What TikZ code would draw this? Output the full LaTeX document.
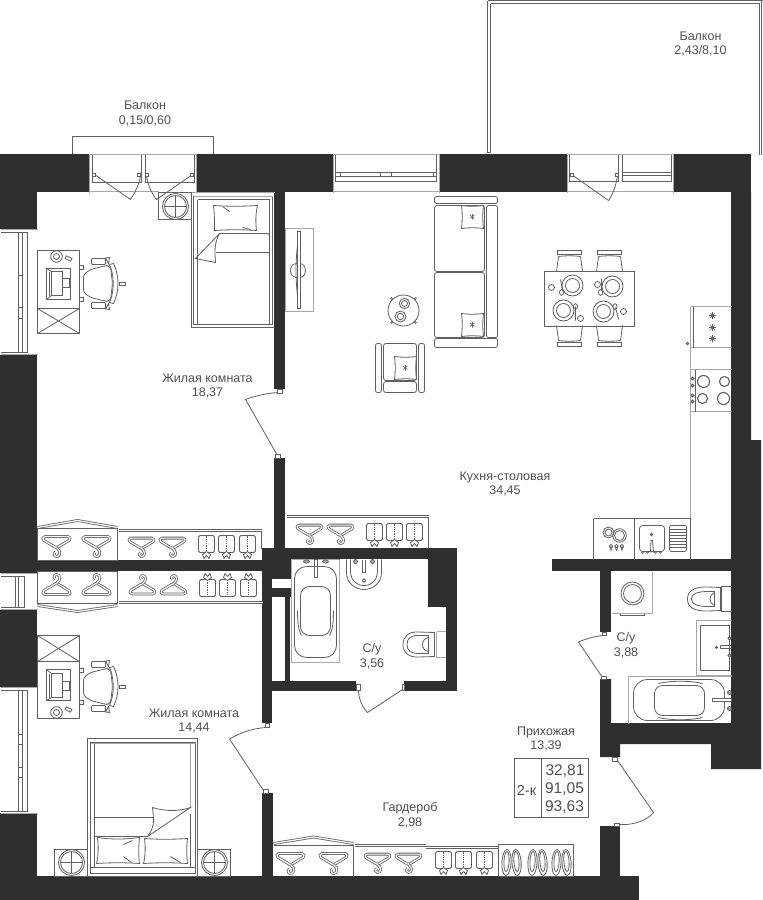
\documentclass[tikz,border=0pt]{standalone}
\usepackage{fontspec}
\setmainfont{Liberation Sans}
\definecolor{wallc}{HTML}{2F2F2F}
\definecolor{linec}{HTML}{606060}
\definecolor{lightl}{HTML}{A8A8A8}
\definecolor{textc}{HTML}{505050}
\tikzset{
  x=1pt,y=-1pt,
  wall/.style={fill=wallc,draw=none},
  ln/.style={draw=linec,line width=.8pt,xshift=.5pt,yshift=-.5pt},
  lite/.style={draw=lightl,line width=1pt,xshift=.5pt,yshift=-.5pt},
  dbl/.style={draw=linec,line width=.8pt,double=white,double distance=1.2pt,line join=round,xshift=.5pt,yshift=-.5pt},
  lab/.style={text=textc,align=center,inner sep=0pt,font=\fontsize{12.5}{14.8}\selectfont},
  big/.style={text=textc,align=center,inner sep=0pt,font=\fontsize{15.5}{18}\selectfont},
  hanger/.pic={
    \draw[dbl,rounded corners=1.5] (0,3.5) -- (-14,-5) -- (-13,-8) -- (13,-8) -- (14,-5) -- cycle;
    \draw[dbl] (0,3) .. controls (5,7) and (4,12) .. (0,12) .. controls (-3,12) and (-3,8) .. (-1,7.5);
  },
  shirt/.pic={
    \draw[ln,rounded corners=1.5] (-8,-13) rectangle (8,4);
    \draw[ln,densely dotted] (0,-13) -- (0,2);
    \draw[ln,fill=white] (0,3) -- (-4,6) -- (-2.5,10) -- (0,7) -- (2.5,10) -- (4,6) -- cycle;
  },
  shoes/.pic={
    \foreach \sx/\r in {-5/-3,5/4}{
      \begin{scope}[shift={(\sx,0)},rotate=\r]
      \draw[ln,fill=white] (0,0) ellipse[x radius=4.6,y radius=13];
      \draw[ln] (0,-1) ellipse[x radius=2.6,y radius=10];
      \end{scope}
    }
  },
  offchair/.pic={
    \draw[ln,rounded corners=3] (-17,-9) -- (-10,-14) -- (6,-18) -- (10,-17) -- (12,0) -- (10,17) -- (6,18) -- (-10,14) -- (-17,9) -- cycle;
    \draw[ln,fill=white] (9,-19) .. controls (14,-8) and (14,8) .. (9,19) -- (13,20) .. controls (19,8) and (19,-8) .. (13,-20) -- cycle;
    \draw[ln] (19,-1.5) rectangle (25,1.5);
    \draw[ln,fill=white,rounded corners=1] (-9,-25) rectangle (5,-19);
    \draw[ln,fill=white,rounded corners=1] (-9,19) rectangle (5,25);
    \draw[ln] (-21,-18) rectangle (-17,-14) (-21,14) rectangle (-17,18);
    \draw[ln] (5,-25.5) -- (9,-26) -- (8,-20) -- cycle (5,25.5) -- (9,26) -- (8,20) -- cycle;
  },
  pcset/.pic={
    \draw[ln] (-13,-15) rectangle (11,16);
    \draw[ln] (-13,-15) -- (-8,-12) (-8,12) -- (-13,16);
    \draw[ln] (-10,-12) -- (-10,12);
    \draw[ln] (-8,-12) rectangle (3,12);
    \draw[ln] (3,-5) rectangle (10,4);
  },
  round/.pic={
    \draw[ln] (0,0) circle[radius=13];
    \draw[ln] (0,0) circle[radius=11];
    \draw[ln] (-11,0) -- (11,0) (0,-11) -- (0,11);
  },
  cushion/.pic={
    \draw[ln,fill=white] (0,0) .. controls (7,1) and (14,1) .. (22,0) .. controls (21,8) and (21,15) .. (22,23) .. controls (14,22) and (7,22) .. (0,23) .. controls (1,15) and (1,8) .. (0,0) -- cycle;
    \draw[ln,line width=.6pt] (8.5,9.5) -- (13,13) (8.5,13) -- (13,9.5) (11,8.5) -- (11,14);
  },
  diner/.pic={
    \draw[ln] (0,0) -- (2,-15) (24,-15) -- (26,0);
    \draw[ln] (2,-15) .. controls (10,-16) and (16,-16) .. (24,-15);
    \draw[ln] (1,-21) rectangle (25,-17);
  },
  plate/.pic={
    \draw[ln] (0,0) circle[radius=10.5];
    \draw[ln] (0,0) circle[radius=7];
  },
  burner/.pic={
    \draw[ln,line width=1.1pt] (0,0) circle[radius=#1];
  },
  aster/.pic={
    \draw[ln,line width=.6pt] (-3.5,0) -- (3.5,0) (0,-3.5) -- (0,3.5) (-2.5,-2.5) -- (2.5,2.5) (-2.5,2.5) -- (2.5,-2.5);
    \draw[ln,line width=.6pt] (0,0) circle[radius=1.6];
  },
  hinge/.style={ln,fill=white},
}
\begin{document}
\begin{tikzpicture}
\useasboundingbox (0,0) rectangle (763,900);
\fill[white] (0,0) rectangle (763,900);

% balconies
\draw[ln] (72,154) -- (72,136) -- (213,136) -- (213,154);
\draw[ln] (487,152) -- (487,0) (490,152) -- (490,3) (487,152) -- (490,152);
\draw[ln] (487,0) -- (763,0) (490,3) -- (759,3);
\draw[ln] (759,154) -- (759,3) (761,154) -- (761,0);

% walls
\fill[wall] (0,154) rectangle (89,192);
\fill[wall] (197,154) rectangle (333,192);
\fill[wall] (440,154) rectangle (567,192);
\fill[wall] (674,154) rectangle (751,192);
\fill[wall] (0,154) rectangle (37,229);
\fill[wall] (0,355) rectangle (37,573);
\fill[wall] (0,610) rectangle (37,687);
\fill[wall] (0,813) rectangle (37,900);
\fill[wall] (0,876) rectangle (639,900);
\fill[wall] (731,192) -- (751,192) -- (751,440) -- (761,440) -- (761,769) -- (711,769) -- (711,744) -- (620,744) -- (620,757) -- (600,757) -- (600,679) -- (611,679) -- (611,723) -- (731,723) -- cycle;
\fill[wall] (600,826) rectangle (620,876);
\fill[wall] (552,559) rectangle (731,571);
\fill[wall] (600,571) rectangle (611,632);
\fill[wall] (274,192) rectangle (285,389);
\fill[wall] (274,458) rectangle (285,548);
\fill[wall] (37,560) rectangle (262,571);
\fill[wall] (262,548) rectangle (457,559);
\fill[wall] (262,548) rectangle (272,723);
\fill[wall] (262,793) rectangle (273,876);
\fill[wall] (272,559) rectangle (291,579);
\fill[wall] (272,588) rectangle (291,597);
\fill[wall] (285,597) rectangle (290,681);
\fill[wall] (262,681) rectangle (356,691);
\fill[wall] (404,681) rectangle (457,691);
\fill[wall] (428,559) rectangle (457,607);
\fill[wall] (446,607) rectangle (457,691);

% windows, top
\draw[lite] (89,154) -- (196,154) (89,154) -- (89,192) (196,154) -- (196,192) (89,191) -- (158,191);
\draw[ln] (92,154) -- (92,182) -- (141,182) -- (141,154);
\draw[ln] (145,154) -- (145,182) -- (194,182) -- (194,154);
\draw[ln] (94,174) -- (130,199) .. controls (135,191) and (139,183) .. (140,175);
\draw[ln] (192,174) -- (156,199) .. controls (151,193) and (147,183) .. (146,175);
\foreach \h in {94,139,147,192} \draw[hinge] (\h-2,173) rectangle (\h+1,176);

\draw[lite] (333,154) -- (439,154) (333,154) -- (333,192) (439,154) -- (439,192) (333,191) -- (439,191);
\draw[ln] (335,154) -- (335,181) -- (436,181) -- (436,154);
\draw[ln] (335,172) -- (436,172) (335,176) -- (436,176);
\draw[ln] (340,172) -- (340,176) (380,172) -- (380,176) (391,172) -- (391,176) (433,172) -- (433,176);

\draw[lite] (567,154) -- (673,154) (567,154) -- (567,192) (673,154) -- (673,192) (567,191) -- (673,191);
\draw[ln] (569,154) -- (569,181) -- (618,181) -- (618,154);
\draw[ln] (622,154) -- (622,181) -- (671,181) -- (671,154);
\draw[ln] (622,172) -- (671,172) (622,175) -- (671,175);
\draw[ln] (571,174) -- (608,200) .. controls (613,193) and (616,183) .. (617,175);
\draw[hinge] (570,173) rectangle (573,176);
\draw[hinge] (615,173) rectangle (618,176);

% windows, left
\foreach \ya/\yb/\ti in {232/352/{275,307,318},690/811/{734,744,767,777}}{
  \draw[lite] (0,\ya-3) -- (37,\ya-3) (0,\yb+2) -- (37,\yb+2);
  \draw[ln] (0,\ya) -- (27,\ya) -- (27,\yb) -- (0,\yb);
  \draw[ln] (18,\ya) -- (18,\yb) (22,\ya) -- (22,\yb);
  \foreach \t in \ti \draw[ln] (18,\t) -- (22,\t);
}
\draw[lite] (0,573) -- (37,573) (0,609) -- (37,609);
\draw[ln] (0,576) -- (24,576) -- (24,607) -- (0,607);
\draw[ln] (15,576) -- (15,607) (18,576) -- (18,607);

% upper bedroom
\draw[ln] (158,192) rectangle (191,219);
\pic at (175,206) {round};
\draw[lite] (191,192) -- (274,192);
\draw[ln] (191,193) -- (191,327) -- (274,327);
\draw[ln] (193,195) -- (193,324) -- (272,324) -- (272,195);
\draw[lite] (193,196) -- (272,196);
\draw[ln] (197,199) -- (197,323) (197,199) -- (269,199) -- (269,323);
\draw[ln] (213,205) .. controls (228,206) and (242,206) .. (257,205) .. controls (255,214) and (255,222) .. (256,230) .. controls (242,229) and (228,229) .. (214,230) .. controls (214,222) and (214,214) .. (213,205) -- cycle;
\draw[ln] (222,206) -- (229,211) (242,227) -- (250,229);
\draw[ln] (215,252) -- (269,252);
\draw[ln] (269,236) .. controls (269,233) and (268,233) .. (266,233) -- (219,233) -- (195,258) -- (215,262) .. controls (214,250) and (214,242) .. (219,233);

\draw[ln] (37,250) rectangle (79,333);
\draw[ln] (37,308) -- (79,308) (37,308) -- (79,333) (37,333) -- (79,308);
\pic at (59,283) {pcset};
\draw[ln] (56,256) circle[radius=5.8] (56,256) circle[radius=3];
\draw[ln,rotate around={-25:(68,258)}] (65,256.5) rectangle (71,259.5);
\pic at (100,283) {offchair};

% tv
\draw[lite] (285,228) rectangle (313,311);
\draw[ln] (297,231) rectangle (300,308);
\draw[ln] (297,263) .. controls (292,263) and (290,266) .. (290,270) .. controls (290,274) and (292,277) .. (297,277);
\draw[ln] (300,263) .. controls (304,264) and (305,267) .. (305,270) .. controls (305,273) and (304,276) .. (300,277);
\draw[ln] (297,245) .. controls (295,262) and (295,278) .. (297,295);

% sofa
\draw[ln,rounded corners=2] (434,196) rectangle (497,203);
\draw[ln,rounded corners=2.5] (434,205) rectangle (484,271);
\draw[ln,rounded corners=2.5] (434,272) rectangle (484,337);
\draw[ln,rounded corners=2] (486,205) rectangle (497,337);
\draw[ln,rounded corners=2] (434,338) rectangle (497,347);
\pic at (461,205) {cushion};
\pic at (461,313) {cushion};

% coffee table
\draw[ln] (403,310) circle[radius=15.5];
\draw[ln] (404,303) circle[radius=5.2] (404,303) circle[radius=3];
\draw[ln] (400,316) circle[radius=5.5] (400,316) circle[radius=3.2];
\draw[ln,line width=.6pt] (391,298) circle[radius=1] (415,298) circle[radius=1] (391,322) circle[radius=1] (415,322) circle[radius=1];

% armchair
\draw[ln,rounded corners=2] (375,343) rectangle (381,392);
\draw[ln,rounded corners=2] (418,343) rectangle (424,392);
\draw[ln,rounded corners=2.5] (383,343) rectangle (416,380);
\draw[ln,rounded corners=2.5] (383,381) rectangle (416,392);
\pic at (394,356) {cushion};

% dining
\foreach \cx in {556,596}{
  \pic at (\cx,271) {diner};
  \pic[yscale=-1] at (\cx,326) {diner};
}
\draw[ln] (544,271) rectangle (634,326);
\foreach \px/\py in {572/285,612/286,563/310,603/311} \pic at (\px,\py) {plate};
\draw[ln] (551,287) circle[radius=3] (560,279) -- (562,290);
\draw[ln] (561,292) ellipse[x radius=2,y radius=2.8];
\draw[ln] (597,284) circle[radius=3] (601,278) -- (601,290);
\draw[ln] (600,292) ellipse[x radius=2,y radius=2.8];
\draw[ln] (575,306) -- (575,320) (575,306) ellipse[x radius=2,y radius=2.8];
\draw[ln] (580,318) circle[radius=3];
\draw[ln] (615,307) -- (618,319) (614.5,306) ellipse[x radius=2,y radius=2.8];
\draw[ln] (623,311) circle[radius=3];

% kitchen
\draw[lite] (690,306) -- (731,306) (690,347) -- (731,347) (690,306) -- (690,347);
\draw[ln] (693,306) -- (693,347);
\pic at (712,315) {aster};
\pic at (712,327) {aster};
\pic at (712,338) {aster};
\draw[ln] (687,343) circle[radius=1.3];
\draw[lite] (690,347) -- (690,518);
\draw[lite] (690,369) -- (731,369) (690,411) -- (731,411);
\draw[ln] (695,369) -- (695,411);
\pic at (703,381) {burner=6};
\pic at (724,381) {burner=5};
\pic at (702,398) {burner=5};
\pic at (723,398) {burner=6};
\foreach \ky in {378,385,395,401} \draw[ln,fill=lightl] (692,\ky) circle[radius=1.5];

\draw[ln] (593,518) -- (593,559) (593,518) -- (690,518) -- (690,559) (634,518) -- (634,559);
\draw[ln] (608,532) circle[radius=5.5] (608,532) circle[radius=3.5];
\draw[ln] (619,535) circle[radius=6.8] (619,535) circle[radius=5];
\foreach \dx in {610.5,616,621.5} \draw[ln,line width=.6pt] (\dx,545.5) circle[radius=1.6] (\dx-1.5,546) -- (\dx,550) -- (\dx+1.5,546);
\draw[ln,rounded corners=3] (639,525) rectangle (664,551);
\draw[ln] (651,534) circle[radius=1.3];
\draw[ln] (650,552) -- (650.5,540) -- (652,540) -- (653,552);
\foreach \kx in {642,647,655,660} \draw[ln,line width=.6pt] (\kx,552) circle[radius=1];
\draw[ln,rounded corners=2] (669,525) rectangle (686,551);
\foreach \gy in {529,532,535,538,541,544,547} \draw[ln,line width=.7pt] (669,\gy) -- (686,\gy);

% right bath
\draw[lite] (611,613) -- (652,613) -- (652,571);
\draw[ln] (620,613) -- (620,615) -- (644,615) -- (644,613);
\draw[ln] (632,593) circle[radius=11.5] (632,593) circle[radius=9];
\draw[ln] (731,586) -- (721,586) -- (721,611) -- (731,611);
\draw[ln] (720,587) -- (708,586.5) .. controls (694,586) and (687,590) .. (687,598.5) .. controls (687,607) and (694,611) .. (708,610.5) -- (720,610) -- cycle;
\draw[ln] (714,591) -- (708,591) .. controls (697,591) and (691,593) .. (691,598.5) .. controls (691,604) and (697,606) .. (708,606) -- (714,606) -- cycle;
\draw[ln] (714,592) .. controls (708,594) and (708,603) .. (714,605);
\draw[lite] (731,620) -- (696,620) -- (696,675) -- (731,675);
\draw[ln] (700,625) rectangle (729,670);
\draw[ln] (716,647) circle[radius=1] (720,645) -- (731,645) (720,648) -- (731,648) (720,645) -- (720,648);
\draw[ln,fill=lightl] (729,638) circle[radius=1.6] (729,655) circle[radius=1.6];
\draw[lite] (628,723) -- (628,676) -- (731,676);
\draw[ln,rounded corners=14] (633,679) rectangle (724,720);
\draw[ln,rounded corners=8] (654,685) rectangle (704,715);
\draw[ln] (658,683) .. controls (670,680) and (690,680) .. (702,683) (658,717) .. controls (670,720) and (690,720) .. (702,717);
\draw[ln,fill=white] (712,698) rectangle (731,701);
\draw[ln,fill=lightl] (729,692) circle[radius=2] (729,708) circle[radius=2];

% doors
\draw[hinge] (602,632) rectangle (606,635);
\draw[ln] (602,635) .. controls (594,636) and (586,638) .. (578,641.5) -- (602,677);
\draw[hinge] (601,676) rectangle (606,679);
\draw[hinge] (612,757) rectangle (617,761);
\draw[ln] (617,760) -- (653,812) .. controls (647,820) and (632,825) .. (619,824);
\draw[hinge] (614,823) rectangle (619,826);
\draw[hinge] (277,389) rectangle (282,393);
\draw[ln] (277,392) .. controls (266,393) and (256,395) .. (245,399) -- (277,455);
\draw[hinge] (275,454) rectangle (280,458);
\draw[hinge] (265,723) rectangle (269,727);
\draw[ln] (265,727) .. controls (252,728) and (240,732) .. (229,738.5) -- (263,790);
\draw[hinge] (263,789) rectangle (268,793);
\draw[hinge] (356,684) rectangle (360,690);
\draw[ln] (358,690) .. controls (358,698) and (362,707) .. (367,712) -- (402,689);
\draw[hinge] (402,684) rectangle (404,690);

% left bath
\draw[lite] (291,559) -- (339,559) -- (339,662) -- (291,662) -- cycle;
\draw[ln,rounded corners=12] (294,566) rectangle (336,657);
\draw[ln,rounded corners=9] (300,586) rectangle (330,635);
\draw[ln] (297,610) .. controls (297,622) and (298,630) .. (301,635) (333,610) .. controls (333,622) and (332,630) .. (329,635);
\draw[ln] (314,559) rectangle (317,577);
\draw[ln,fill=lightl] (306,561) ellipse[x radius=3,y radius=1.6] (325,561) ellipse[x radius=3,y radius=1.6];
\draw[ln] (346,559) -- (346,572) .. controls (346,582) and (354,589) .. (363.5,589) .. controls (373,589) and (381,582) .. (381,572) -- (381,559);
\draw[ln] (350,559) -- (350,570) .. controls (350,580) and (356,585) .. (363.5,585) .. controls (371,585) and (377,580) .. (377,570) -- (377,559);
\draw[ln] (363.5,580) circle[radius=1.8];
\draw[ln] (362,559) -- (362,572) -- (365,572) -- (365,559);
\draw[ln,fill=lightl] (355,561) circle[radius=2] (372,561) circle[radius=2];
\draw[lite] (436,631) -- (445,631) (436,631) -- (436,657) -- (445,657);
\draw[ln] (434,632) -- (418,631.5) .. controls (408,631) and (402.5,636) .. (402.5,644) .. controls (402.5,652) and (408,657) .. (418,656.5) -- (434,656) -- cycle;
\draw[ln] (428,635) -- (418,635) .. controls (410,635) and (406.5,638) .. (406.5,644) .. controls (406.5,650) and (410,653) .. (418,653) -- (428,653) -- cycle;
\draw[ln] (428,637) .. controls (420,638) and (420,650) .. (428,651);

% wardrobes: upper bedroom
\draw[dbl] (37,527) -- (77,520) -- (117,527);
\draw[ln] (37,528) rectangle (117,560);
\draw[dbl] (118,530) -- (189,530);
\draw[dbl] (189,530) -- (261,530);
\draw[ln] (261,530) -- (261,548);
\foreach \hx in {56,96} \pic at (\hx,544) {hanger};
\foreach \hx in {141,172} \pic[scale=.92] at (\hx,545) {hanger};
\foreach \sx in {206,226,247} \pic at (\sx,548) {shirt};

% wardrobes: lower bedroom
\draw[dbl] (37,605) -- (77,611) -- (117,605);
\draw[ln] (37,571) rectangle (117,603);
\draw[dbl] (118,602) -- (190,602);
\draw[dbl] (190,602) -- (262,602);
\foreach \hx in {56,96} \pic[yscale=-1] at (\hx,587) {hanger};
\foreach \hx in {142,173} \pic[yscale=-1,scale=.92] at (\hx,587) {hanger};
\foreach \sx in {207,227,248} \pic[yscale=-1] at (\sx,584) {shirt};

% wardrobe: kitchen side
\draw[dbl] (286,516) -- (357,516);
\draw[dbl] (357,516) -- (428,516);
\draw[ln] (428,516) -- (428,548);
\foreach \hx in {309,340} \pic[scale=.92] at (\hx,532) {hanger};
\foreach \sx in {374,394,414} \pic at (\sx,536) {shirt};

% bedroom 2
\draw[ln] (37,635) rectangle (79,718);
\draw[ln] (37,661) -- (79,661) (37,635) -- (79,661) (37,661) -- (79,635);
\pic[yscale=-1] at (59,686) {pcset};
\draw[ln] (56,712) circle[radius=5.8] (56,712) circle[radius=3];
\draw[ln,rotate around={-25:(68,709)}] (65,707.5) rectangle (71,710.5);
\pic[yscale=-1] at (100,687) {offchair};

\draw[ln] (87,738) rectangle (197,876);
\draw[ln] (90,742) rectangle (195,873);
\draw[lite] (90,743) -- (195,743);
\draw[ln] (94,743) -- (94,867) (90,867) -- (195,867);
\draw[lite,line width=1.2pt] (190,743) -- (190,807);
\draw[ln] (190,813) -- (190,867);
\draw[ln] (94,817) -- (152,817) (94,836) -- (147,836);
\draw[ln] (147,836) -- (190,807) .. controls (178,811) and (165,811) .. (152,807) .. controls (153,818) and (155,826) .. (147,836);
\draw[ln] (97,837) .. controls (110,839) and (125,839) .. (139,837) .. controls (138,846) and (138,855) .. (139,863) .. controls (125,862) and (110,862) .. (96,863) .. controls (98,855) and (98,846) .. (97,837) -- cycle;
\draw[ln] (144,838) .. controls (158,839) and (172,839) .. (187,838) .. controls (186,846) and (186,855) .. (187,863) .. controls (172,862) and (158,862) .. (143,863) .. controls (145,855) and (145,846) .. (144,838) -- cycle;
\draw[ln] (123,844) -- (132,840) (123,856) -- (131,862) (170,856) -- (180,862);
\draw[ln] (54,849) rectangle (87,876);
\draw[ln] (197,849) rectangle (230,876);
\pic at (71,862) {round};
\pic at (214,862) {round};

% garderobe
\draw[dbl] (273,843) -- (313,836.5) -- (353,843);
\draw[ln] (273,845) -- (353,845) (353,845) -- (353,876);
\draw[dbl] (354,845) -- (425,845);
\draw[dbl] (425,847) -- (498,847);
\draw[ln] (498,844) rectangle (573,876);
\foreach \hx in {290,333} \pic at (\hx,861) {hanger};
\foreach \hx in {377,408} \pic[scale=.92] at (\hx,861) {hanger};
\foreach \sx in {443,463,484} \pic at (\sx,864) {shirt};
\pic at (511,862) {shoes};
\pic at (537,862) {shoes};
\pic at (561,862) {shoes};

% summary table
\draw[ln] (514,758) rectangle (588,817);
\draw[ln] (541,758) -- (541,817);

% labels
\node[lab] (balc1) at (145,113.5) {Балкон\\0,15/0,60};
\node[lab] (balc2) at (700.5,44) {Балкон\\2,43/8,10};
\node[lab] (room1) at (207.5,386) {Жилая комната\\18,37};
\node[lab] (kitch) at (505,484) {Кухня-столовая\\34,45};
\node[lab] (room2) at (194,721) {Жилая комната\\14,44};
\node[lab] (bath1) at (372,656.5) {С/у\\3,56};
\node[lab] (bath2) at (626,645) {С/у\\3,88};
\node[lab] (hall) at (546,739) {Прихожая\\13,39};
\node[lab] (ward) at (410,815) {Гардероб\\2,98};
\node[big] (t1) at (565,771) {32,81};
\node[big] (t2) at (564.5,789) {91,05};
\node[big] (t3) at (564.5,807) {93,63};
\node[big,font=\fontsize{14.5}{18}\selectfont] (t0) at (526.5,790) {2-к};
\end{tikzpicture}
\end{document}
